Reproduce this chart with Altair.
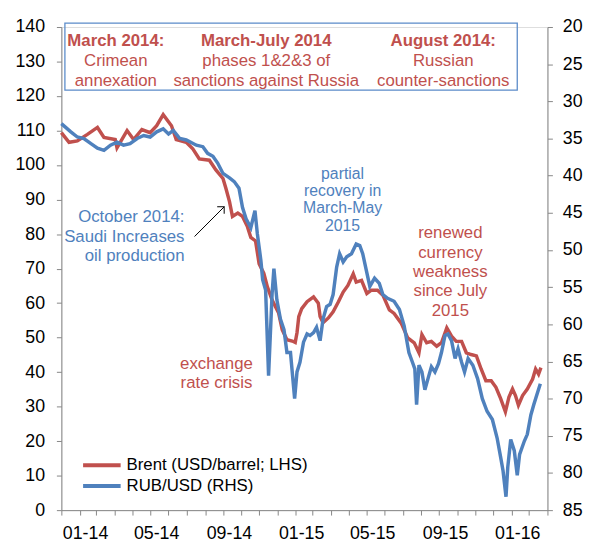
import altair as alt
import pandas as pd

# ---------------- data ----------------
brent_dates = [
    "2014-01-01", "2014-01-14", "2014-01-28", "2014-02-14", "2014-03-03", "2014-03-14",
    "2014-04-02", "2014-04-05", "2014-04-22", "2014-05-03", "2014-05-17", "2014-05-31",
    "2014-06-11", "2014-06-22", "2014-07-06", "2014-07-14", "2014-07-31", "2014-08-11",
    "2014-08-22", "2014-09-08", "2014-09-19", "2014-10-01", "2014-10-06", "2014-10-12",
    "2014-10-17", "2014-10-26", "2014-11-03", "2014-11-11", "2014-11-17", "2014-11-25",
    "2014-12-01", "2014-12-09", "2014-12-15", "2014-12-23", "2015-01-03", "2015-01-09",
    "2015-01-17", "2015-01-26", "2015-01-31", "2015-02-03", "2015-02-06", "2015-02-11",
    "2015-02-20", "2015-03-03", "2015-03-11", "2015-03-14", "2015-03-19", "2015-03-28",
    "2015-04-05", "2015-04-14", "2015-04-22", "2015-04-30", "2015-05-09", "2015-05-14",
    "2015-05-23", "2015-06-01", "2015-06-08", "2015-06-19", "2015-06-28", "2015-07-09",
    "2015-07-17", "2015-07-29", "2015-08-09", "2015-08-20", "2015-08-28", "2015-09-02",
    "2015-09-10", "2015-09-18", "2015-09-27", "2015-10-05", "2015-10-14", "2015-10-22",
    "2015-10-30", "2015-11-08", "2015-11-16", "2015-11-24", "2015-12-03", "2015-12-11",
    "2015-12-19", "2015-12-28", "2016-01-05", "2016-01-13", "2016-01-21", "2016-01-27",
    "2016-02-02", "2016-02-07", "2016-02-12", "2016-02-19", "2016-02-27", "2016-03-07",
    "2016-03-12", "2016-03-17", "2016-03-21",
]
brent_values = [
    109.4, 106.6, 107.0, 108.9, 110.9, 108.0,
    107.4, 105.0, 110.0, 107.4, 110.3, 109.4,
    111.4, 114.6, 111.4, 107.4, 106.6, 104.7,
    101.8, 101.4, 98.6, 96.1, 93.2, 89.4,
    85.1, 86.1, 85.1, 82.3, 79.0, 78.0,
    71.4, 68.6, 64.7, 60.9, 57.1, 52.3,
    49.4, 49.0, 48.6, 51.4, 56.1, 58.4,
    60.4, 61.8, 60.0, 56.1, 54.3, 55.7,
    57.5, 60.4, 63.2, 65.1, 68.5, 66.1,
    66.6, 62.8, 63.7, 63.7, 62.3, 58.0,
    57.0, 54.2, 49.9, 48.5, 45.6, 50.9,
    48.5, 48.9, 47.5, 48.5, 52.8, 50.4,
    48.9, 48.9, 45.6, 45.1, 44.7, 40.9,
    37.5, 37.5, 35.6, 32.3, 28.5, 32.8,
    35.1, 33.2, 30.4, 33.2, 35.1, 38.0,
    40.9, 39.4, 41.3,
]

rub_dates = [
    "2014-01-01", "2014-01-17", "2014-01-28", "2014-02-08", "2014-02-20", "2014-03-03",
    "2014-03-14", "2014-03-25", "2014-04-05", "2014-04-16", "2014-04-27", "2014-05-09",
    "2014-05-20", "2014-05-31", "2014-06-11", "2014-06-22", "2014-07-01", "2014-07-09",
    "2014-07-20", "2014-07-31", "2014-08-17", "2014-08-28", "2014-09-05", "2014-09-14",
    "2014-09-22", "2014-10-01", "2014-10-12", "2014-10-20", "2014-10-28", "2014-11-03",
    "2014-11-09", "2014-11-17", "2014-11-24", "2014-11-28", "2014-12-04", "2014-12-07",
    "2014-12-12", "2014-12-17", "2014-12-23", "2014-12-26", "2014-12-31", "2015-01-06",
    "2015-01-12", "2015-01-17", "2015-01-23", "2015-01-30", "2015-02-03", "2015-02-08",
    "2015-02-14", "2015-02-20", "2015-02-25", "2015-03-03", "2015-03-08", "2015-03-14",
    "2015-03-19", "2015-03-25", "2015-03-31", "2015-04-05", "2015-04-11", "2015-04-16",
    "2015-04-22", "2015-04-28", "2015-05-06", "2015-05-14", "2015-05-20", "2015-05-25",
    "2015-05-31", "2015-06-06", "2015-06-14", "2015-06-22", "2015-06-28", "2015-07-06",
    "2015-07-17", "2015-07-26", "2015-08-03", "2015-08-11", "2015-08-17", "2015-08-21",
    "2015-08-24", "2015-08-28", "2015-09-02", "2015-09-07", "2015-09-13", "2015-09-18",
    "2015-09-24", "2015-09-30", "2015-10-05", "2015-10-11", "2015-10-16", "2015-10-22",
    "2015-10-28", "2015-11-02", "2015-11-08", "2015-11-13", "2015-11-19", "2015-11-27",
    "2015-12-05", "2015-12-13", "2015-12-21", "2015-12-30", "2016-01-07", "2016-01-13",
    "2016-01-17", "2016-01-22", "2016-01-25", "2016-01-30", "2016-02-05", "2016-02-10",
    "2016-02-14", "2016-02-22", "2016-02-27", "2016-03-04", "2016-03-09", "2016-03-14",
    "2016-03-20",
]
rub_values = [
    33.0, 34.1, 34.8, 35.0, 35.7, 36.3,
    36.6, 35.9, 35.5, 35.9, 35.7, 35.0,
    34.6, 34.8, 34.1, 33.7, 34.4, 33.9,
    35.0, 35.2, 35.9, 36.1, 37.0, 37.4,
    38.3, 39.7, 40.3, 40.8, 41.7, 44.3,
    45.8, 47.0, 44.7, 47.8, 51.4, 54.0,
    55.4, 66.9, 55.8, 52.5, 56.7, 59.3,
    60.7, 63.8, 63.8, 70.0, 66.4, 65.1,
    62.4, 61.3, 61.5, 61.1, 60.4, 62.2,
    59.3, 57.6, 57.3, 56.0, 52.3, 50.5,
    51.6, 50.9, 50.5, 49.2, 49.4, 50.5,
    52.7, 54.9, 53.8, 54.5, 56.0, 56.5,
    56.9, 58.0, 60.2, 63.8, 65.1, 66.0,
    70.8, 65.5, 66.4, 68.8, 67.1, 65.7,
    66.4, 65.3, 63.8, 61.5, 61.3, 62.2,
    64.6, 63.3, 65.1, 66.4, 64.6, 65.5,
    67.3, 70.0, 71.7, 72.8, 75.3, 77.9,
    79.7, 83.2, 79.2, 75.5, 77.0, 80.3,
    77.5, 75.7, 74.8, 72.2, 70.8, 69.5,
    68.0,
]

series_names = ["Brent (USD/barrel; LHS)", "RUB/USD (RHS)"]
series_colors = ["#C0504D", "#4F81BD"]

left_ticks = [0, 10, 20, 30, 40, 50, 60, 70, 80, 90, 100, 110, 120, 130, 140]
right_ticks = [20, 25, 30, 35, 40, 45, 50, 55, 60, 65, 70, 75, 80, 85]
x_tick_labels = ["01-14", "05-14", "09-14", "01-15", "05-15", "09-15", "01-16"]

# annotations (date, value on the left axis, text, group)
ann_dates = [
    "2014-04-03", "2014-04-03", "2014-04-03",
    "2014-12-13", "2014-12-13", "2014-12-13",
    "2015-10-08", "2015-10-08", "2015-10-08",
    "2014-07-28", "2014-07-28", "2014-07-28",
    "2015-04-21", "2015-04-21", "2015-04-21", "2015-04-21",
    "2015-10-20", "2015-10-20", "2015-10-20", "2015-10-20", "2015-10-20",
    "2014-09-20", "2014-09-20",
]
ann_values = [
    134.5, 128.7, 123.0,
    134.5, 128.7, 123.0,
    134.5, 128.7, 123.0,
    83.6, 77.7, 72.1,
    96.06, 91.05, 86.04, 81.03,
    78.93, 73.2, 67.48, 61.92, 56.31,
    40.94, 35.41,
]
ann_texts = [
    "March 2014:", "Crimean", "annexation",
    "March-July 2014", "phases 1&2&3 of", "sanctions against Russia",
    "August 2014:", "Russian", "counter-sanctions",
    "October 2014:", "Saudi Increases", "oil production",
    "partial", "recovery in", "March-May", "2015",
    "renewed", "currency", "weakness", "since July", "2015",
    "exchange", "rate crisis",
]
ann_groups = [
    "box_bold", "box", "box",
    "box_bold", "box", "box",
    "box_bold", "box", "box",
    "blue_right", "blue_right", "blue_right",
    "blue", "blue", "blue", "blue",
    "red", "red", "red", "red", "red",
    "red", "red",
]

box_x = ["2014-01-07"]
box_x2 = ["2016-02-10"]
box_y = [141.1]
box_y2 = [121.7]

arrow_x = ["2014-08-14"]
arrow_y = [79.3]
arrow_x2 = ["2014-10-03"]
arrow_y2 = [87.9]

# ---------------- chart ----------------
FONT = "Liberation Sans"
GRAY = "#868686"


def ms(d):
    return int(pd.Timestamp(d, tz="UTC").timestamp() * 1000)


month_ticks = [ms(d) for d in pd.date_range("2014-01-01", "2016-04-01", freq="MS")]
x_scale = alt.Scale(domain=[ms("2014-01-01"), ms("2016-04-01")])
yl_scale = alt.Scale(domain=[0, 140], nice=False, zero=False)
yr_scale = alt.Scale(domain=[20, 85], nice=False, zero=False, reverse=True)
color_scale = alt.Scale(domain=series_names, range=series_colors)

lab_list = ",".join("'%s'" % s for s in x_tick_labels)
label_expr = (
    "indexof([%s], utcFormat(datum.value, '%%m-%%y')) >= 0 ? "
    "utcFormat(datum.value, '%%m-%%y') : ''" % lab_list
)

x_axis = alt.Axis(
    values=month_ticks, labelExpr=label_expr, labelOffset=24, labelFlush=False,
    labelOverlap=False, labelAngle=0, tickSize=5, labelPadding=10, labelFontSize=18,
    labelFont=FONT, labelColor="black", domainColor=GRAY, tickColor=GRAY,
    grid=False, title=None,
)
left_axis = alt.Axis(
    values=left_ticks, orient="left", tickSize=5, labelPadding=12, labelFontSize=18,
    labelFont=FONT, labelColor="black", domainColor=GRAY, tickColor=GRAY,
    grid=False, title=None,
)
right_axis = alt.Axis(
    values=right_ticks, orient="right", tickSize=5, labelPadding=10, labelFontSize=18,
    labelFont=FONT, labelColor="black", domainColor=GRAY, tickColor=GRAY,
    grid=False, title=None,
)

legend = alt.Legend(
    orient="none", legendX=41, legendY=433, title=None, direction="vertical",
    symbolType="M-3.47,0H1", symbolSize=289, symbolStrokeWidth=4,
    labelFontSize=17, labelFont=FONT, labelColor="black", labelOffset=4,
    labelLimit=400, rowPadding=2, padding=0,
)

brent_df = pd.DataFrame({"date": brent_dates, "value": brent_values, "series": series_names[0]})
rub_df = pd.DataFrame({"date": rub_dates, "value": rub_values, "series": series_names[1]})
ann_df = pd.DataFrame({"date": ann_dates, "value": ann_values, "text": ann_texts, "group": ann_groups})
box_df = pd.DataFrame({"x": box_x, "x2": box_x2, "y": box_y, "y2": box_y2})
arrow_df = pd.DataFrame({"x": arrow_x, "x2": arrow_x2, "y": arrow_y, "y2": arrow_y2})


def X(field):
    return alt.X(field, scale=x_scale, axis=x_axis)


def YL(field):
    return alt.Y(field, scale=yl_scale, axis=left_axis)


brent_line = alt.Chart(brent_df).mark_line(strokeWidth=3.5).encode(
    x=X("date:T"),
    y=YL("value:Q"),
    color=alt.Color("series:N", scale=color_scale, legend=legend),
)

rub_line = alt.Chart(rub_df).mark_line(strokeWidth=3.5).encode(
    x=X("date:T"),
    y=alt.Y("value:Q", scale=yr_scale, axis=right_axis),
    color=alt.Color("series:N", scale=color_scale, legend=legend),
)


def text_layer(group, color, weight="normal", align="center", size=17):
    return alt.Chart(ann_df[ann_df.group == group]).mark_text(
        font=FONT, fontSize=size, fontWeight=weight, color=color, align=align,
        baseline="alphabetic",
    ).encode(
        x=X("date:T"),
        y=YL("value:Q"),
        text="text:N",
    )


box = alt.Chart(box_df).mark_rect(fillOpacity=0, stroke="#5B8BC9", strokeWidth=1.3).encode(
    x=X("x:T"),
    x2="x2:T",
    y=YL("y:Q"),
    y2="y2:Q",
)

arrow = alt.Chart(arrow_df).mark_rule(color="black", strokeWidth=1).encode(
    x=X("x:T"),
    x2="x2:T",
    y=YL("y:Q"),
    y2="y2:Q",
)
arrow_head = alt.Chart(arrow_df).mark_point(
    shape="M-1,1L0,0L1,1", filled=False, angle=45, size=100, stroke="black", strokeWidth=1,
    opacity=1,
).encode(
    x=X("x2:T"),
    y=YL("y2:Q"),
)

left_group = alt.layer(
    brent_line,
    box,
    text_layer("box_bold", "#C0504D", "bold"),
    text_layer("box", "#C0504D"),
    text_layer("blue_right", "#4F81BD", align="right"),
    text_layer("blue", "#4F81BD", size=16),
    text_layer("red", "#C0504D"),
    arrow,
    arrow_head,
)

chart = (
    alt.layer(left_group, rub_line)
    .resolve_scale(y="independent")
    .properties(
        width=492, height=489,
        autosize=alt.AutoSizeParams(type="none"),
        padding={"left": 54, "top": 16, "right": 37, "bottom": 29},
    )
    .configure_view(stroke=None)
    .configure(font=FONT)
)

chart.save("out.html", embed_options={"renderer": "svg", "actions": False})
